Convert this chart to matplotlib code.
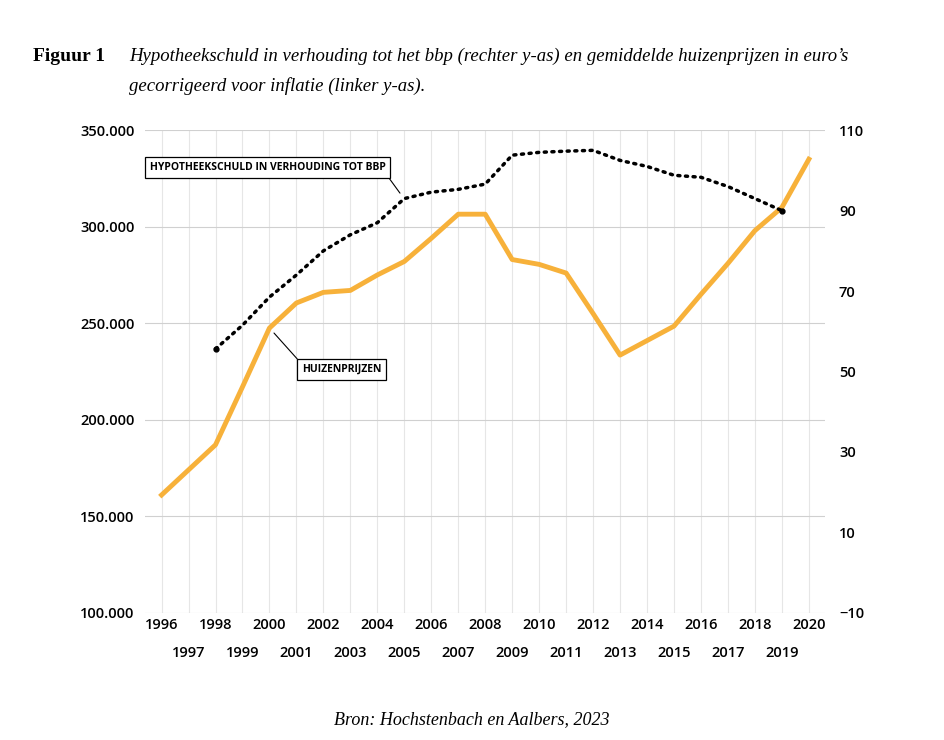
import matplotlib.pyplot as plt
from matplotlib.ticker import FuncFormatter

years = list(range(1996, 2021))
huizenprijzen = [161000, 174000, 187000, 217000, 247500, 260500, 266000, 267000,
                 275000, 282000, 294000, 306500, 306500, 283000, 280500, 276000,
                 255000, 233500, 241000, 248500, 265000, 281000, 298000, 310000, 335000]
schuld_years = list(range(1998, 2020))
schuld = [55.6, 61.5, 68.5, 74, 80, 84, 87, 93, 94.6, 95.3, 96.6, 103.8, 104.5,
          104.8, 105, 102.5, 101, 98.8, 98.3, 96, 93, 90]

orange = "#f7b13a"
sans = "Open Sans"
serif = "Liberation Serif"

fig = plt.figure(figsize=(9.44, 7.4), dpi=100)
ax = fig.add_axes([0.154, 0.172, 0.72, 0.652])
ax2 = ax.twinx()

ax.plot(years, huizenprijzen, color=orange, lw=3.5, zorder=3)
ax2.plot(schuld_years, schuld, color="black", lw=2.5, ls=(0, (0.6, 1.6)),
         dash_capstyle="round", zorder=4)
ax2.plot([schuld_years[0], schuld_years[-1]], [schuld[0], schuld[-1]], "o",
         color="black", ms=3.5, zorder=5)

ax.set_xlim(1995.4, 2020.6)
ax.set_ylim(100000, 350000)
ax2.set_ylim(-10, 110)
ax.set_yticks(range(100000, 350001, 50000))
ax2.set_yticks(range(-10, 111, 20))
ax.yaxis.set_major_formatter(FuncFormatter(lambda v, p: f"{int(v):,}".replace(",", ".")))
ax2.yaxis.set_major_formatter(FuncFormatter(lambda v, p: f"{int(v)}".replace("-", "\u2212")))

even = [y for y in years if y % 2 == 0]
odd = [y for y in years if y % 2 == 1]
ax.set_xticks(even)
ax.set_xticklabels([str(y) for y in even])
ax.set_xticks(odd, minor=True)
ax.set_xticklabels([str(y) for y in odd], minor=True)
ax.tick_params(axis="x", which="major", length=0, pad=4, labelsize=10.5)
ax.tick_params(axis="x", which="minor", length=0, pad=24, labelsize=10.5)
ax.tick_params(axis="y", length=0, labelsize=10.5, pad=8)
ax2.tick_params(axis="y", length=0, labelsize=10.5, pad=10)
for lab in (ax.get_xticklabels() + ax.get_xticklabels(minor=True)
            + ax.get_yticklabels() + ax2.get_yticklabels()):
    lab.set_fontweight("semibold")
    lab.set_family(sans)

for y in years:
    ax.axvline(y, color="#e6e6e6", lw=0.8, zorder=0)
ax.grid(axis="y", which="major", color="#d0d0d0", lw=0.8, zorder=0)
ax.set_axisbelow(True)
for a in (ax, ax2):
    for s in a.spines.values():
        s.set_visible(False)

box = dict(boxstyle="square,pad=0.45", fc="white", ec="black", lw=0.9)
ax2.annotate("HYPOTHEEKSCHULD IN VERHOUDING TOT BBP", xy=(2004.9, 93.8),
             xytext=(2004.3, 100.7), fontsize=7.5, fontweight="bold", family=sans,
             bbox=box, va="center", ha="right", zorder=6,
             arrowprops=dict(arrowstyle="-", color="black", lw=0.8, shrinkA=0, shrinkB=2,
                             relpos=(1, 0)))
ax.annotate("HUIZENPRIJZEN", xy=(2000.1, 246000), xytext=(2001.2, 226000),
            fontsize=7.5, fontweight="bold", family=sans, bbox=box, va="center",
            ha="left", zorder=6,
            arrowprops=dict(arrowstyle="-", color="black", lw=0.8,
                            shrinkA=0, shrinkB=2, relpos=(0, 1)))

fig.text(0.035, 0.918, "Figuur 1", family=serif, fontweight="bold", fontsize=14)
fig.text(0.137, 0.918, "Hypotheekschuld in verhouding tot het bbp (rechter y-as) en gemiddelde huizenprijzen in euro\u2019s",
         family=serif, style="italic", fontsize=13.5)
fig.text(0.137, 0.877, "gecorrigeerd voor inflatie (linker y-as).",
         family=serif, style="italic", fontsize=13.5)
fig.text(0.5, 0.022, "Bron: Hochstenbach en Aalbers, 2023", family=serif,
         style="italic", fontsize=13, ha="center")

fig.savefig("out.png", dpi=100)
